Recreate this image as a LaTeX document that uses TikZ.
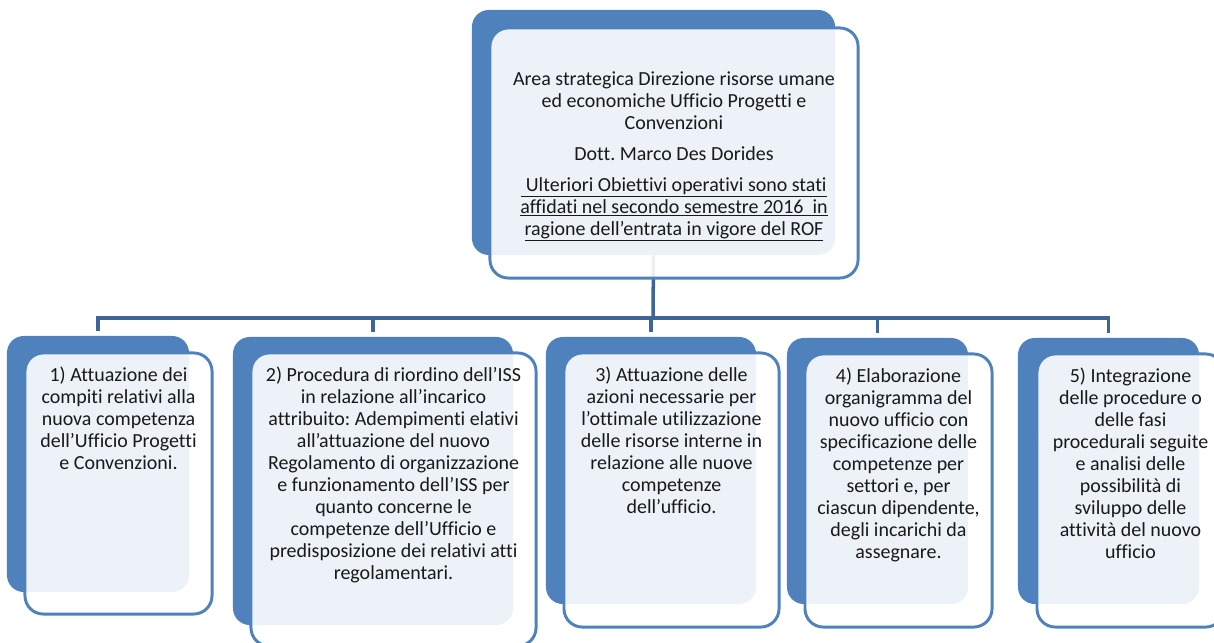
\documentclass[tikz,border=0pt]{standalone}
\usepackage{fontspec}
\setmainfont{Carlito}[Ligatures={NoCommon}]
\usetikzlibrary{calc}
\frenchspacing

\definecolor{boxblue}{RGB}{79,129,189}
\definecolor{linkblue}{RGB}{62,101,150}

\begin{document}
\begin{tikzpicture}[x=0.025cm,y=-0.025cm,
	backbox/.style={fill=boxblue,rounded corners=12pt,inner sep=0pt},
	frontbox/.style={draw=boxblue,line width=2.1pt,fill=white,fill opacity=0.9,rounded corners=13pt,inner sep=0pt},
	boxtext/.style={align=center,inner sep=0pt,text=black!90,font=\fontsize{14.2}{15.65}\selectfont},
	link/.style={draw=linkblue,line width=2.5pt}]
	\useasboundingbox (0,0) rectangle (1214,643);
	\clip (0,0) rectangle (1214,643);
	%\draw[help lines] (0,0) grid[step=50] (1214,643);

	% back panels
	\node[backbox,minimum width=9.075cm,minimum height=6.125cm] (b0) at (653.5,132.5) {};
	\node[backbox,minimum width=4.55cm,minimum height=6.4cm] (b1) at (98,464) {};
	\node[backbox,minimum width=7cm,minimum height=7.2cm] (b2) at (373,481) {};
	\node[backbox,minimum width=5.25cm,minimum height=6.675cm] (b3) at (651,470.5) {};
	\node[backbox,minimum width=4.525cm,minimum height=6.65cm] (b4) at (877.5,471) {};
	\node[backbox,minimum width=4.525cm,minimum height=6.65cm] (b5) at (1108.5,471) {};

	% connectors
	\coordinate (bus) at (653,318);
	\draw[link] (b0.south) -- (bus);
	\foreach \i in {1,...,5}
		\draw[link,shorten >=3pt] (bus) -| (b\i.north);

	% front panels
	\node[frontbox,minimum width=9.2cm,minimum height=6.25cm] (f0) at (674,153) {};
	\node[frontbox,minimum width=4.675cm,minimum height=6.525cm] (f1) at (118.5,483.5) {};
	\node[frontbox,minimum width=7.125cm,minimum height=7.325cm] (f2) at (393.5,499.5) {};
	\node[frontbox,minimum width=5.375cm,minimum height=6.85cm] (f3) at (671.5,490) {};
	\node[frontbox,minimum width=4.675cm,minimum height=6.825cm] (f4) at (898.5,490.5) {};
	\node[frontbox,minimum width=4.675cm,minimum height=6.825cm] (f5) at (1130.5,490.5) {};

	% texts
	\node[boxtext] (t0) at ([yshift=-2.5pt]f0.center) {Area strategica Direzione risorse umane\\ed economiche Ufficio Progetti e\\Convenzioni\\[6.4pt]
		Dott. Marco Des Dorides\\[6.4pt]
		\underline{\ Ulteriori Obiettivi operativi sono stati}\\\underline{affidati nel secondo semestre 2016\ \ in}\\\underline{ragione dell’entrata in vigore del ROF}};
	\node[boxtext,anchor=north] (t1) at ([yshift=-11pt]f1.north) {1) Attuazione dei\\compiti relativi alla\\nuova competenza\\dell’Ufficio Progetti\\e Convenzioni.};
	\node[boxtext,anchor=north] (t2) at ([yshift=-11pt]f2.north) {2) Procedura di riordino dell’ISS\\in relazione all’incarico\\attribuito: Adempimenti elativi\\all’attuazione del nuovo\\Regolamento di organizzazione\\e funzionamento dell’ISS per\\quanto concerne le\\competenze dell’Ufficio e\\predisposizione dei relativi atti\\regolamentari.};
	\node[boxtext,anchor=north] (t3) at ([yshift=-11pt]f3.north) {3) Attuazione delle\\azioni necessarie per\\l’ottimale utilizzazione\\delle risorse interne in\\relazione alle nuove\\competenze\\dell’ufficio.};
	\node[boxtext,anchor=north] (t4) at ([yshift=-11pt]f4.north) {4) Elaborazione\\organigramma del\\nuovo ufficio con\\specificazione delle\\competenze per\\settori e, per\\ciascun dipendente,\\degli incarichi da\\assegnare.};
	\node[boxtext,anchor=north] (t5) at ([yshift=-11pt]f5.north) {5) Integrazione\\delle procedure o\\delle fasi\\procedurali seguite\\e analisi delle\\possibilità di\\sviluppo delle\\attività del nuovo\\ufficio};
\end{tikzpicture}
\end{document}
